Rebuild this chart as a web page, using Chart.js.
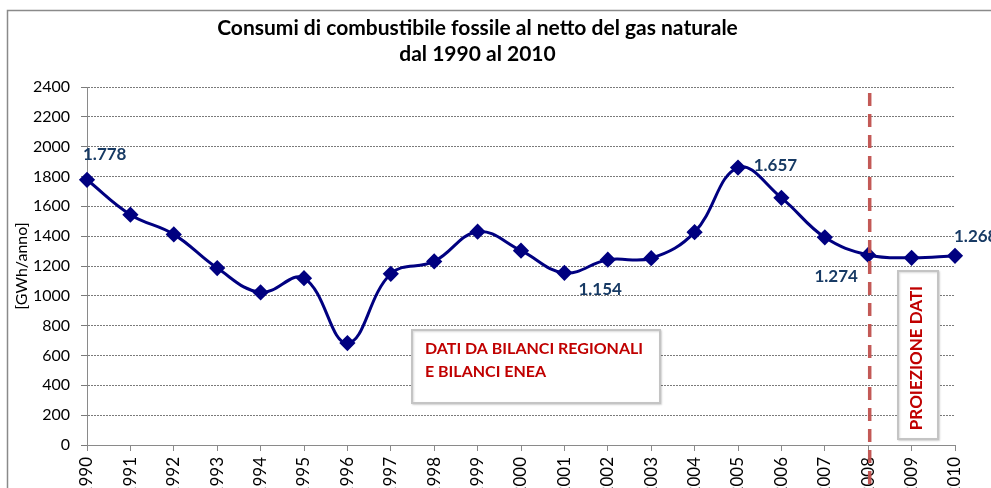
<!DOCTYPE html>
<html>
<head>
<meta charset="utf-8">
<script src="https://cdn.jsdelivr.net/npm/chart.js@4.4.0/dist/chart.umd.min.js"></script>
<style>
  html, body { margin: 0; padding: 0; overflow: hidden; background: #fff; }
  #wrap { position: relative; width: 991px; height: 500px; }
</style>
</head>
<body>
<div id="wrap"><canvas id="lineChart"></canvas></div>
<script>
// DATA
const years = ['1990', '1991', '1992', '1993', '1994', '1995', '1996', '1997', '1998', '1999', '2000',
  '2001', '2002', '2003', '2004', '2005', '2006', '2007', '2008', '2009', '2010'];
const consumi = [1778, 1544, 1412, 1186, 1023, 1118, 683, 1148, 1231, 1430, 1303,
  1154, 1242, 1252, 1427, 1860, 1657, 1392, 1274, 1255, 1268];
const yTicks = [0, 200, 400, 600, 800, 1000, 1200, 1400, 1600, 1800, 2000, 2200, 2400];
const etichette = ['1990', '2001', '2006', '2008', '2010']; // anni con il valore scritto
const annoProiezione = '2008';

const FONT = 'Lato, "Open Sans", sans-serif';

// valori scritti sul grafico, formato italiano 1.778
function fmt(v) {
  return v.toString().replace(/\B(?=(\d{3})+(?!\d))/g, '.');
}

// posizione delle etichette rispetto al punto
const labelPos = {
  '1990': { dx: -4, dy: -25, align: 'left' },
  '2001': { dx: 14, dy: 17, align: 'left' },
  '2006': { dx: -6, dy: -32, align: 'center' },
  '2008': { dx: -32, dy: 22, align: 'center' },
  '2010': { dx: -1, dy: -19, align: 'left' },
};

const extras = {
  id: 'extras',
  beforeDraw(chart) {
    const ctx = chart.ctx;
    ctx.save();
    ctx.strokeStyle = '#8a8a8a';
    ctx.lineWidth = 1.5;
    ctx.beginPath();
    ctx.moveTo(7.5, 600);
    ctx.lineTo(7.5, 10.5);
    ctx.lineTo(chart.width, 10.5);
    ctx.stroke();
    ctx.restore();
  },
  afterDatasetsDraw(chart) {
    const ctx = chart.ctx;
    const x = chart.scales.x;
    const y = chart.scales.y;
    const meta = chart.getDatasetMeta(0);

    // linea tratteggiata proiezione
    const px = x.getPixelForValue(years.indexOf(annoProiezione)) + 1.5;
    ctx.save();
    ctx.strokeStyle = 'rgba(192, 80, 77, 0.95)';
    ctx.lineWidth = 3.5;
    ctx.setLineDash([13, 8]);
    ctx.beginPath();
    ctx.moveTo(px, y.top + 6);
    ctx.lineTo(px, chart.height);
    ctx.stroke();
    ctx.restore();

    // valori
    ctx.save();
    ctx.font = 'bold 17px ' + FONT;
    ctx.fillStyle = '#173a64';
    ctx.textBaseline = 'middle';
    etichette.forEach(function(anno) {
      const i = years.indexOf(anno);
      const p = meta.data[i];
      const o = labelPos[anno];
      ctx.textAlign = o.align;
      ctx.fillText(fmt(consumi[i]), p.x + o.dx, p.y + o.dy);
    });
    ctx.restore();

    // riquadri di testo
    ctx.save();
    ctx.shadowColor = 'rgba(0,0,0,0.15)';
    ctx.shadowBlur = 2;
    ctx.shadowOffsetX = 1;
    ctx.shadowOffsetY = 1;
    ctx.fillStyle = '#fff';
    ctx.strokeStyle = '#c4c4c4';
    ctx.lineWidth = 2;
    ctx.fillRect(412, 330, 248, 73);
    ctx.strokeRect(412, 330, 248, 73);
    ctx.fillRect(898, 271, 40, 168);
    ctx.strokeRect(898, 271, 40, 168);
    ctx.restore();

    ctx.save();
    ctx.font = 'bold 16px ' + FONT;
    ctx.fillStyle = '#c00000';
    ctx.textBaseline = 'middle';
    ctx.textAlign = 'left';
    ctx.fillText('DATI DA BILANCI REGIONALI', 425, 349);
    ctx.fillText('E BILANCI ENEA', 425, 372);
    ctx.translate(917, 358);
    ctx.rotate(-Math.PI / 2);
    ctx.textAlign = 'center';
    ctx.font = 'bold 17px ' + FONT;
    ctx.fillText('PROIEZIONE DATI', 0, 0);
    ctx.restore();
  }
};

const data = {
  labels: years,
  datasets: [{
    label: 'Consumi',
    data: consumi,
    borderColor: '#000080',
    backgroundColor: '#000080',
    borderWidth: 3,
    tension: 0.4,
    fill: false,
    pointStyle: 'rectRot',
    pointRadius: 6,
    pointHoverRadius: 6,
  }]
};

const config = {
  type: 'line',
  data: data,
  plugins: [extras],
  options: {
    responsive: false,
    animation: false,
    layout: {
      padding: { top: 0, right: 36, left: 0, bottom: 0 }
    },
    plugins: {
      legend: { display: false },
      tooltip: { enabled: false },
      title: {
        display: true,
        text: ['Consumi di combustibile fossile al netto del gas naturale', 'dal 1990 al 2010'],
        color: '#000',
        font: { family: FONT, size: 21, weight: 'bold', lineHeight: 1.2 },
        padding: { top: 16, bottom: 20.6 }
      }
    },
    scales: {
      x: {
        offset: false,
        afterFit: function(scale) { scale.height = 55; },
        grid: {
          drawOnChartArea: false,
          drawTicks: true,
          tickLength: 6,
          color: '#8a8a8a'
        },
        border: { color: '#8a8a8a', width: 1 },
        ticks: {
          autoSkip: false,
          minRotation: 90,
          maxRotation: 90,
          padding: 6,
          color: '#000',
          font: { family: FONT, size: 17 }
        }
      },
      y: {
        min: 0,
        max: 2400,
        afterFit: function(scale) { scale.width = 87; },
        afterBuildTicks: function(scale) {
          scale.ticks = yTicks.map(function(v) { return { value: v }; });
        },
        title: {
          display: true,
          text: '[GWh/anno]',
          color: '#000',
          font: { family: FONT, size: 16 },
          padding: { top: 12, bottom: 0 }
        },
        grid: {
          color: '#7a7a7a',
          lineWidth: 1,
          tickLength: 6
        },
        border: { color: '#8a8a8a', width: 1, dash: [2, 1] },
        ticks: {
          padding: 11,
          color: '#000',
          font: { family: FONT, size: 16 },
          callback: function(value) { return String(value); }
        }
      }
    }
  }
};

var canvas = document.getElementById('lineChart');
canvas.width = 991;
canvas.height = 500;
const myLineChart = new Chart(canvas, config);
</script>
</body>
</html>
